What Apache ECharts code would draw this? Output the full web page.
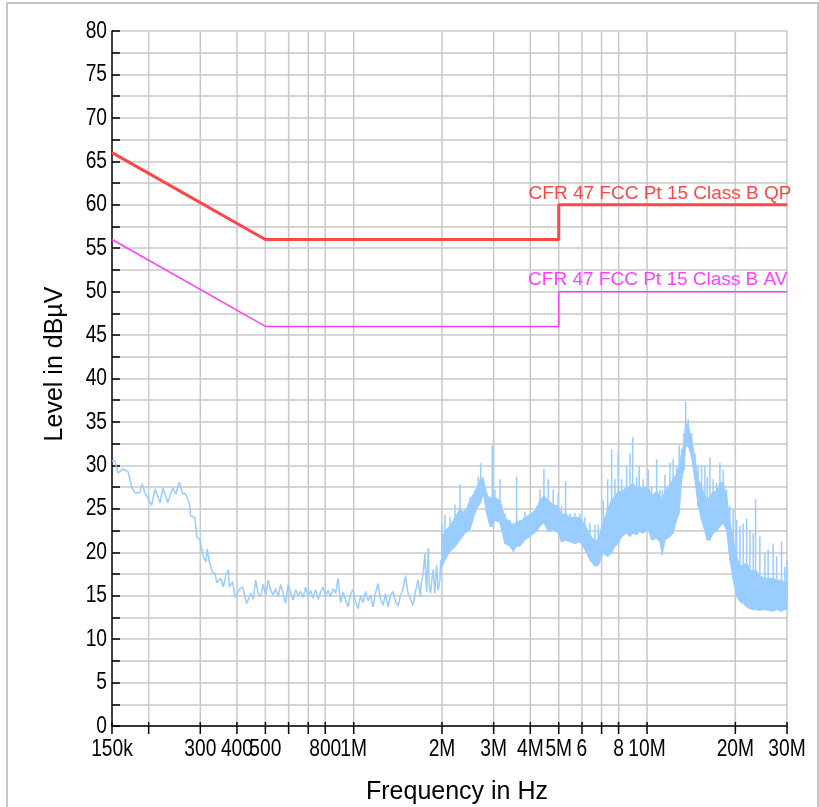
<!DOCTYPE html>
<html><head><meta charset="utf-8">
<script src="https://cdn.jsdelivr.net/npm/echarts@6/dist/echarts.min.js"></script>
<style>html,body{margin:0;padding:0;background:#fff}#c{width:819px;height:807px}</style>
</head><body><div id="c"></div><script>
// Limit lines (frequency in MHz, level in dBµV)
const limitFreq = [0.15, 0.5, 5, 5, 30];
const qpLevel = [66, 56, 56, 60, 60];
const avLevel = [56, 46, 46, 50, 50];
const qpName = 'CFR 47 FCC Pt 15 Class B QP';
const avName = 'CFR 47 FCC Pt 15 Class B AV';

// Measured sweep, 150 kHz .. 2 MHz (MHz, dBµV)
const sweepFreq = [0.150,0.1536,0.1572,0.1631,0.1701,0.1751,0.1797,0.1869,0.1903,0.1943,0.2006,0.2049,0.2102,0.2187,0.2239,0.2323,0.2416,0.2479,0.2544,0.2613,0.2660,0.2752,0.2782,0.2878,0.2916,0.2993,0.3071,0.3137,0.3169,0.3219,0.3306,0.3367,0.3412,0.3521,0.3593,0.3670,0.3737,0.3767,0.3868,0.3939,0.4097,0.4184,0.4318,
  0.4455,0.4543,0.4633,0.4725,0.4818,0.4914,0.5011,0.5110,0.5211,0.5314,0.5420,0.5527,0.5636,0.5748,0.5862,0.5978,0.6096,0.6217,0.6340,0.6465,0.6593,0.6724,0.6857,0.6993,0.7131,0.7272,0.7416,0.7563,0.7713,0.7866,0.8021,0.8180,0.8342,0.8507,0.8676,0.8847,0.9022,0.9201,0.9383,0.9569,0.9758,0.9951,1.0148,1.0349,1.0554,1.0763,1.0976,1.1193,1.1415,1.1641,1.1871,1.2106,1.2346,1.2590,1.2839,1.3094,1.3353,1.3617,1.3887,1.4162,1.4442,1.4728,1.5019,1.5317,1.5620,1.5929,1.6245,1.6566,1.6894,
  1.70,1.726,1.749,1.772,1.795,1.81,1.829,1.848,1.867,1.89,1.917,1.94,1.968,1.98];
const sweepLevel = [30.5,30.5,29.1,29.6,29.3,27.5,26.8,26.9,27.9,26.8,26.0,25.4,27.3,25.7,27.4,25.7,27.4,26.7,28.1,26.7,26.8,25.7,24.2,24.0,21.8,21.4,19.5,18.9,20.4,18.9,17.6,17.6,16.5,17.0,16.0,17.4,18.0,16.0,16.6,14.8,15.8,16.0,14.1,
  15.3,14.6,16.8,15.2,14.9,16.3,15.0,16.8,15.6,15.1,15.8,14.9,16.3,15.2,14.1,16.3,15.3,14.5,15.7,15.0,15.5,14.8,16.0,14.9,15.6,14.7,15.7,14.6,15.4,16.0,15.0,15.6,14.9,15.8,15.3,17.0,14.2,15.4,14.5,13.7,15.2,15.7,14.3,13.5,15.0,14.2,15.5,14.4,15.1,13.7,15.3,16.4,14.6,13.9,15.2,13.7,15.0,15.5,14.3,13.8,15.0,15.8,17.3,15.3,14.6,13.9,15.5,16.8,14.9,
  16.5,17.6,19.9,15.4,20.5,16.2,15.3,17.0,18.0,15.3,18.5,15.6,16.8,19.1];

// Measured sweep, 2 MHz .. 30 MHz: dense band (floor, body top, peaks)
const bandFreq = [2.000,2.047,2.129,2.214,2.303,2.394,2.491,2.591,2.658,2.709,2.765,2.839,2.914,2.967,3.030,3.151,3.278,3.408,3.498,3.592,3.687,3.834,4.041,4.204,4.314,4.452,4.605,4.789,4.980,5.115,5.277,5.459,5.676,5.904,6.141,6.387,6.643,6.819,7.091,7.340,7.573,7.773,7.976,8.192,8.520,8.744,8.931,9.215,9.406,9.705,10.09,10.37,10.78,11.06,11.27,11.51,11.97,12.28,12.61,12.87,13.12,13.36,13.54,13.82,14.19,14.56,14.94,15.35,15.75,16.04,16.38,16.80,17.26,17.72,18.18,18.67,19.17,19.67,20.20,20.73,21.27,21.85,22.42,23.01,23.44,24.24,25.21,25.87,26.92,27.64,28.74,29.50,30.0];
const bandLow = [18.3,19.1,20.1,20.6,21.4,22.2,22.6,24.5,25.3,25.7,26.8,24.5,23.0,23.0,23.7,23.4,21.0,20.7,20.1,20.7,20.7,21.4,22.0,22.4,23.0,23.4,22.4,22.6,22.2,21.2,21.4,21.2,21.0,21.2,20.3,19.1,18.4,18.5,19.9,19.5,19.9,20.7,21.0,21.8,22.2,21.8,22.2,22.0,22.4,22.2,22.6,21.4,21.6,21.2,19.7,21.4,21.8,22.2,23.7,24.5,28.4,29.5,32.2,32.2,31.0,28.4,25.3,23.7,22.4,21.4,21.4,22.2,22.4,23.0,23.3,22.6,19.1,16.8,14.9,14.3,14.1,13.7,13.5,13.4,13.4,13.3,13.4,13.3,13.2,13.4,13.2,13.4,13.4];
const bandBody = [21.5,22.5,23.0,24.0,25.0,24.5,26.0,27.0,27.8,28.5,28.3,26.8,26.0,26.3,26.3,26.0,24.0,23.5,23.0,23.5,23.5,24.0,24.5,25.0,26.0,26.5,26.0,25.5,25.3,24.3,24.5,24.0,24.0,24.0,23.2,22.0,21.3,21.5,23.5,25.0,26.0,26.5,27.0,27.0,27.5,27.5,28.0,27.3,27.5,27.3,27.5,26.5,27.0,26.5,26.0,27.0,27.8,28.5,29.0,30.0,31.5,32.5,35.0,34.5,33.0,30.8,28.5,27.5,26.5,26.0,26.5,27.0,27.0,28.0,28.0,26.5,23.5,21.5,19.5,18.5,18.5,18.8,18.0,17.8,18.0,17.3,17.0,17.0,17.0,16.8,16.8,16.5,16.5];
const bandHigh = [23.2,24.3,24.1,25.5,27.8,24.9,26.4,27.2,28.7,30.3,28.7,26.8,26.4,32.3,27.2,28.4,24.5,23.7,23.4,28.7,23.7,24.7,24.5,25.3,27.2,29.6,28.4,27.2,26.8,25.3,28.2,24.5,24.5,24.5,24.1,23.4,23.2,23.2,26.0,28.4,31.8,28.4,31.5,28.4,29.9,31.4,33.3,28.7,29.9,28.4,29.5,27.6,30.7,27.2,27.2,28.9,30.3,30.7,29.9,32.3,31.8,33.7,37.3,35.3,33.7,31.4,29.9,30.0,30.0,28.7,30.9,28.4,28.0,30.3,29.5,27.2,25.3,24.9,23.7,23.0,23.3,23.9,22.6,22.2,26.1,21.8,19.9,20.3,21.0,19.5,21.2,18.3,19.1];

// Axis ticks
const gridFreq = [0.15,0.2,0.3,0.4,0.5,0.6,0.7,0.8,1,2,3,4,5,6,7,8,10,20,30];
const gridLabel = ['150k','','300','400','500','','','800','1M','2M','3M','4M','5M','6','','8','10M','20M','30M'];
const yTickValues = [0,5,10,15,20,25,30,35,40,45,50,55,60,65,70,75,80];

const FONT = '"Liberation Sans", Arial, sans-serif';
const TICKFONT = '24px ' + FONT;
const COND = 0.8;
const NOISE = '#99ccff';

const noise = [];
sweepFreq.forEach((f, i) => noise.push([f, sweepLevel[i]]));
bandFreq.forEach((f, i) => {
  noise.push([f, bandLow[i]]);
  noise.push([f, bandHigh[i]]);
  noise.push([f, bandBody[i]]);
});

const chart = echarts.init(document.getElementById('c'), null, {renderer: 'canvas'});
chart.setOption({
  animation: false,
  backgroundColor: '#fff',
  grid: {left: 112, right: 32, top: 31, bottom: 81, containLabel: false},
  xAxis: {
    type: 'log', logBase: 10, min: 0.15, max: 30,
    axisLine: {show: true, lineStyle: {color: '#000', width: 1.5}},
    axisTick: {show: false}, axisLabel: {show: false}, splitLine: {show: false}
  },
  yAxis: {
    type: 'value', min: 0, max: 80, interval: 5,
    axisLine: {show: true, lineStyle: {color: '#000', width: 1.5}},
    axisTick: {show: true, inside: true, length: 8, lineStyle: {color: '#000', width: 1.5}},
    minorTick: {show: true, splitNumber: 2, length: 8, lineStyle: {color: '#000', width: 1.5}},
    axisLabel: {show: false},
    splitLine: {show: true, lineStyle: {color: '#c8c8c8', width: 1.5}},
    minorSplitLine: {show: true, lineStyle: {color: '#c8c8c8', width: 1.5}}
  },
  graphic: [
    {type: 'rect', shape: {x: 7, y: 3, width: 811, height: 820}, style: {fill: 'none', stroke: '#b4b4b4', lineWidth: 1.5}, silent: true},
    {type: 'text', x: 457, y: 792, style: {text: 'Frequency in Hz', font: '25px ' + FONT, fill: '#000', align: 'center', verticalAlign: 'middle'}},
    {type: 'text', x: 55, y: 364, rotation: Math.PI / 2, style: {text: 'Level in dBµV', font: '25px ' + FONT, fill: '#000', align: 'center', verticalAlign: 'middle'}}
  ],
  series: [
    {
      type: 'custom', z: 1, silent: true, clip: false,
      data: gridFreq.map(f => [f, 0]),
      renderItem: function (params, api) {
        const f = api.value(0);
        const top = api.coord([f, 80]);
        const bot = api.coord([f, 0]);
        const children = [];
        if (params.dataIndex > 0) {
          children.push({type: 'line', shape: {x1: bot[0], y1: top[1], x2: bot[0], y2: bot[1]}, style: {stroke: '#c8c8c8', lineWidth: 1.5}});
        }
        children.push({type: 'line', shape: {x1: bot[0], y1: bot[1] - 4, x2: bot[0], y2: bot[1] + 8}, style: {stroke: '#000', lineWidth: 1.5}});
        const lab = gridLabel[params.dataIndex];
        if (lab) {
          children.push({type: 'text', x: bot[0], y: bot[1] + 23, scaleX: COND, style: {text: lab, font: TICKFONT, fill: '#000', align: 'center', verticalAlign: 'middle'}});
        }
        return {type: 'group', children: children};
      }
    },
    {
      type: 'custom', z: 1, silent: true, clip: false,
      data: yTickValues.map(v => [0.15, v]),
      renderItem: function (params, api) {
        const p = api.coord([0.15, api.value(1)]);
        return {type: 'text', x: p[0] - 5, y: p[1], scaleX: COND, style: {text: String(api.value(1)), font: TICKFONT, fill: '#000', align: 'right', verticalAlign: 'middle'}};
      }
    },
    {
      type: 'custom', z: 2, silent: true, clip: true,
      data: [[bandFreq[0], bandLow[0]]],
      renderItem: function (params, api) {
        const pts = [];
        for (let i = 0; i < bandFreq.length; i++) pts.push(api.coord([bandFreq[i], bandBody[i]]));
        for (let i = bandFreq.length - 1; i >= 0; i--) pts.push(api.coord([bandFreq[i], bandLow[i]]));
        return {type: 'polygon', shape: {points: pts}, style: {fill: NOISE, stroke: NOISE, lineWidth: 1}};
      }
    },
    {
      name: 'Measurement', type: 'line', z: 3, symbol: 'none',
      data: noise,
      lineStyle: {color: NOISE, width: 1.5}
    },
    {
      name: avName, type: 'line', z: 4, symbol: 'none',
      data: limitFreq.map((f, i) => [f, avLevel[i]]),
      lineStyle: {color: '#ff40ff', width: 1.5},
      markPoint: {
        symbol: 'circle', symbolSize: 1, itemStyle: {color: 'rgba(0,0,0,0)'},
        data: [{coord: [30, 50]}],
        label: {show: true, formatter: avName, position: [1, -2], align: 'right', verticalAlign: 'bottom', color: '#ff40ff', fontSize: 19, fontFamily: FONT}
      }
    },
    {
      name: qpName, type: 'line', z: 5, symbol: 'none',
      data: limitFreq.map((f, i) => [f, qpLevel[i]]),
      lineStyle: {color: '#ff4646', width: 3},
      markPoint: {
        symbol: 'circle', symbolSize: 1, itemStyle: {color: 'rgba(0,0,0,0)'},
        data: [{coord: [30, 60]}],
        label: {show: true, formatter: qpName, position: [5, -1], align: 'right', verticalAlign: 'bottom', color: '#ff4646', fontSize: 19, fontFamily: FONT}
      }
    }
  ]
});
</script></body></html>
